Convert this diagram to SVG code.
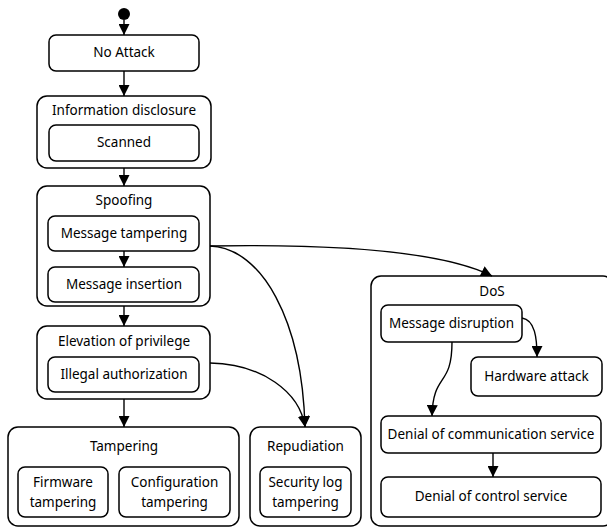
<svg xmlns="http://www.w3.org/2000/svg" width="607" height="527" viewBox="0 0 607 527">
  <style>
    .box { fill: #fff; stroke: #000; stroke-width: 1.5; }
    .lbl { font-family: "Noto Sans", "Open Sans", "DejaVu Sans", sans-serif; font-size: 13.5px; fill: #000; text-anchor: middle; dominant-baseline: central; }
    .edge { fill: none; stroke: #000; stroke-width: 1.4; marker-end: url(#arrow); }
  </style>
  <defs>
    <marker id="arrow" markerUnits="userSpaceOnUse" markerWidth="11" markerHeight="11" refX="11" refY="5.5" orient="auto">
      <path d="M0,0 L11,5.5 L0,11 z" fill="#000"/>
    </marker>
  </defs>
  <rect width="607" height="527" fill="#fff"/>

  <g id="start">
    <circle cx="124" cy="14" r="6" fill="#000"/>
  </g>

  <g id="no-attack">
    <rect class="box" x="49" y="35" width="150" height="36" rx="7"/>
    <text class="lbl" x="124" y="52">No Attack</text>
  </g>

  <g id="information-disclosure">
    <rect class="box" x="37" y="96" width="174" height="72" rx="10"/>
    <text class="lbl" x="124" y="110">Information disclosure</text>
    <g id="scanned">
      <rect class="box" x="49" y="125" width="150" height="36" rx="7"/>
      <text class="lbl" x="124" y="142">Scanned</text>
    </g>
  </g>

  <g id="spoofing">
    <rect class="box" x="37" y="186" width="173" height="120" rx="10"/>
    <text class="lbl" x="124" y="200">Spoofing</text>
    <g id="message-tampering">
      <rect class="box" x="48" y="216" width="151" height="35" rx="7"/>
      <text class="lbl" x="124" y="233">Message tampering</text>
    </g>
    <g id="message-insertion">
      <rect class="box" x="48" y="267" width="151" height="35" rx="7"/>
      <text class="lbl" x="124" y="284">Message insertion</text>
    </g>
  </g>

  <g id="elevation-of-privilege">
    <rect class="box" x="37" y="326" width="173" height="73" rx="10"/>
    <text class="lbl" x="124" y="341">Elevation of privilege</text>
    <g id="illegal-authorization">
      <rect class="box" x="48" y="357" width="151" height="35" rx="7"/>
      <text class="lbl" x="124" y="374">Illegal authorization</text>
    </g>
  </g>

  <g id="tampering">
    <rect class="box" x="8" y="427" width="231" height="99" rx="10"/>
    <text class="lbl" x="124" y="446">Tampering</text>
    <g id="firmware-tampering">
      <rect class="box" x="18" y="467" width="90" height="50" rx="7"/>
      <text class="lbl" x="63" y="482">Firmware</text>
      <text class="lbl" x="63" y="502">tampering</text>
    </g>
    <g id="configuration-tampering">
      <rect class="box" x="119" y="467" width="111" height="50" rx="7"/>
      <text class="lbl" x="174.5" y="482">Configuration</text>
      <text class="lbl" x="174.5" y="502">tampering</text>
    </g>
  </g>

  <g id="repudiation">
    <rect class="box" x="250" y="427" width="111" height="99" rx="10"/>
    <text class="lbl" x="305.5" y="446">Repudiation</text>
    <g id="security-log-tampering">
      <rect class="box" x="260" y="467" width="91" height="50" rx="7"/>
      <text class="lbl" x="305.5" y="482">Security log</text>
      <text class="lbl" x="305.5" y="502">tampering</text>
    </g>
  </g>

  <g id="dos">
    <rect class="box" x="371" y="276" width="242" height="250" rx="10"/>
    <text class="lbl" x="492" y="291">DoS</text>
    <g id="message-disruption">
      <rect class="box" x="381" y="305" width="141" height="37" rx="7"/>
      <text class="lbl" x="451.5" y="323">Message disruption</text>
    </g>
    <g id="hardware-attack">
      <rect class="box" x="471" y="357" width="131" height="39" rx="7"/>
      <text class="lbl" x="536.5" y="376">Hardware attack</text>
    </g>
    <g id="denial-of-communication-service">
      <rect class="box" x="381" y="416" width="220" height="37" rx="7"/>
      <text class="lbl" x="491" y="434">Denial of communication service</text>
    </g>
    <g id="denial-of-control-service">
      <rect class="box" x="381" y="477" width="220" height="40" rx="7"/>
      <text class="lbl" x="491" y="496">Denial of control service</text>
    </g>
  </g>

  <g id="connectors">
    <path class="edge" d="M124,20 L124,35"/>
    <path class="edge" d="M124,71 L124,96"/>
    <path class="edge" d="M124,168 L124,186"/>
    <path class="edge" d="M124,251 L124,267"/>
    <path class="edge" d="M124,306 L124,326"/>
    <path class="edge" d="M124,399 L124,427"/>
    <path class="edge" d="M210,246 C330,244 440,250 492,276"/>
    <path class="edge" d="M210,246 C262,248 302,320 305,427"/>
    <path class="edge" d="M210,363 C262,364 300,392 305,427"/>
    <path class="edge" d="M522,318 C535,320 537,338 537,357"/>
    <path class="edge" d="M452,342 C452,388 433,372 432,416"/>
    <path class="edge" d="M493,453 L493,477"/>
  </g>
</svg>
